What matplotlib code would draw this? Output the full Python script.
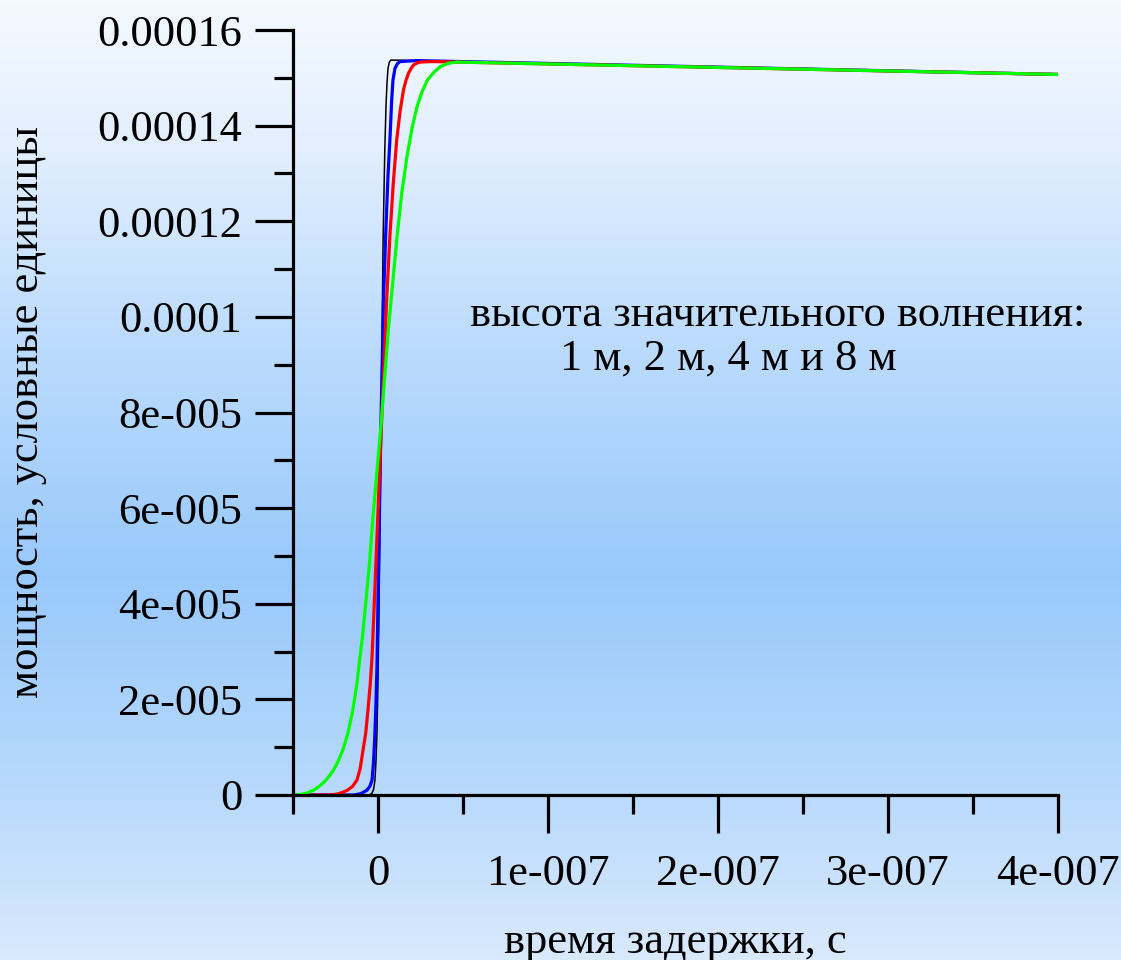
import numpy as np
import matplotlib
matplotlib.use("Agg")
import matplotlib.pyplot as plt
from matplotlib.colors import LinearSegmentedColormap
from matplotlib.ticker import FixedLocator, FixedFormatter, MultipleLocator

############################################
# DATA  (time in 1e-7 s, power in 1e-5 units)
############################################

T_UNIT = 1e-7
P_UNIT = 1e-5

t_black = [-0.5, -0.06, -0.045, -0.035, -0.026, -0.018, -0.012, -0.006, 0.0, 0.006, 0.018,
           0.03, 0.04, 0.047, 0.053, 0.059, 0.067, 0.075, 0.1, 4.0]
p_black = [0.0, 0.0, 0.01, 0.04, 0.12, 0.31, 0.7, 1.3, 2.4, 3.9, 7.7,
           11.6, 13.5, 14.4, 14.9, 15.2, 15.33, 15.37, 15.37, 15.07]

t_blue = [-0.5, -0.14, -0.1, -0.065, -0.048, -0.035, -0.026, -0.018, -0.012, -0.006, 0.0,
          0.017, 0.032, 0.045, 0.058, 0.07, 0.08, 0.088, 0.1, 0.115, 0.13, 0.23, 4.0]
p_blue = [0.0, 0.0, 0.03, 0.1, 0.18, 0.31, 0.7, 1.3, 1.9, 2.68, 4.08,
          7.7, 10.3, 11.7, 12.9, 13.7, 14.5, 14.95, 15.2, 15.3, 15.34, 15.36, 15.07]

t_red = [-0.5, -0.28, -0.24, -0.205, -0.18, -0.15, -0.124, -0.105, -0.088, -0.072, -0.059,
         -0.046, -0.035, -0.015, 0.02, 0.05, 0.07, 0.09, 0.11, 0.13, 0.15, 0.165,
         0.18, 0.195, 0.21, 0.23, 0.25, 0.32, 4.0]
p_red = [0.0, 0.0, 0.02, 0.06, 0.1, 0.18, 0.31, 0.55, 0.94, 1.3, 1.78,
         2.3, 2.89, 4.6, 7.7, 10.3, 11.7, 12.8, 13.7, 14.3, 14.75, 14.95,
         15.1, 15.2, 15.27, 15.31, 15.33, 15.34, 15.07]

t_green = [-0.5, -0.46, -0.42, -0.38, -0.35, -0.32, -0.29, -0.265, -0.235, -0.206, -0.175,
           -0.147, -0.125, -0.106, -0.09, -0.076, -0.05, -0.03, 0.017, 0.06, 0.11, 0.14,
           0.17, 0.2, 0.23, 0.26, 0.29, 0.33, 0.365, 0.41, 0.46, 4.0]
p_green = [0.0, 0.01, 0.04, 0.1, 0.17, 0.26, 0.38, 0.5, 0.7, 0.95, 1.32,
           1.8, 2.3, 2.89, 3.35, 3.87, 4.85, 5.8, 7.7, 9.7, 11.6, 12.6,
           13.34, 13.95, 14.4, 14.72, 14.95, 15.12, 15.23, 15.3, 15.33, 15.07]

x_major = [0, 1, 2, 3, 4]
x_labels = ["0", "1e-007", "2e-007", "3e-007", "4e-007"]
y_major = [0, 2, 4, 6, 8, 10, 12, 14, 16]
y_labels = ["0", "2e-005", "4e-005", "6e-005", "8e-005", "0.0001", "0.00012", "0.00014", "0.00016"]

############################################
# FIGURE
############################################

plt.rcParams["font.family"] = ["Liberation Serif", "DejaVu Serif"]
FS = 32

fig = plt.figure(figsize=(11.21, 9.6), dpi=100)

# background gradient
bg = fig.add_axes([0, 0, 1, 1], zorder=-10)
bg_cmap = LinearSegmentedColormap.from_list(
    "bg", [(0.0, "#f4f9ff"), (0.15, "#e3effe"), (0.35, "#bddcfd"),
           (0.6, "#99c9fb"), (0.8, "#b4d7fc"), (1.0, "#d9e9fc")])
bg.imshow(np.linspace(0, 1, 256)[:, None], aspect="auto", cmap=bg_cmap,
          extent=[0, 1, 0, 1], origin="upper")
bg.axis("off")

ax = fig.add_axes([293 / 1121, 1 - 795 / 960, (1058 - 293) / 1121, (795 - 30) / 960])
ax.patch.set_alpha(0)

ax.plot(np.array(t_black) * T_UNIT, np.array(p_black) * P_UNIT, color="black", lw=1.1)
ax.plot(np.array(t_blue) * T_UNIT, np.array(p_blue) * P_UNIT, color="#0000ff", lw=2.3)
ax.plot(np.array(t_red) * T_UNIT, np.array(p_red) * P_UNIT, color="#ff0000", lw=2.3)
ax.plot(np.array(t_green) * T_UNIT, np.array(p_green) * P_UNIT, color="#00ff00", lw=2.3)

ax.set_xlim(-0.5 * T_UNIT, 4 * T_UNIT)
ax.set_ylim(0, 16 * P_UNIT)

for s in ["top", "right"]:
    ax.spines[s].set_visible(False)
for s in ["left", "bottom"]:
    ax.spines[s].set_linewidth(2.3)

ax.xaxis.set_major_locator(FixedLocator([v * T_UNIT for v in x_major]))
ax.xaxis.set_major_formatter(FixedFormatter(x_labels))
ax.xaxis.set_minor_locator(MultipleLocator(0.5 * T_UNIT))
ax.yaxis.set_major_locator(FixedLocator([v * P_UNIT for v in y_major]))
ax.yaxis.set_major_formatter(FixedFormatter(y_labels))
ax.yaxis.set_minor_locator(MultipleLocator(1 * P_UNIT))

ax.tick_params(which="major", direction="out", length=27.5, width=2.3, labelsize=FS)
ax.tick_params(which="minor", direction="out", length=13.5, width=2.3)
ax.tick_params(axis="x", which="major", pad=15)
ax.tick_params(axis="y", which="major", pad=9)

ax.set_xlabel("время задержки, с", fontsize=FS, labelpad=20)
ax.set_ylabel("мощность, условные единицы", fontsize=FS, labelpad=36)

ax.text(0.633, 0.627, "высота значительного волнения:", transform=ax.transAxes,
        fontsize=FS, ha="center", va="center")
ax.text(0.569, 0.57, "1 м, 2 м, 4 м и 8 м", transform=ax.transAxes,
        fontsize=FS, ha="center", va="center")

fig.savefig("out.png", dpi=100)
